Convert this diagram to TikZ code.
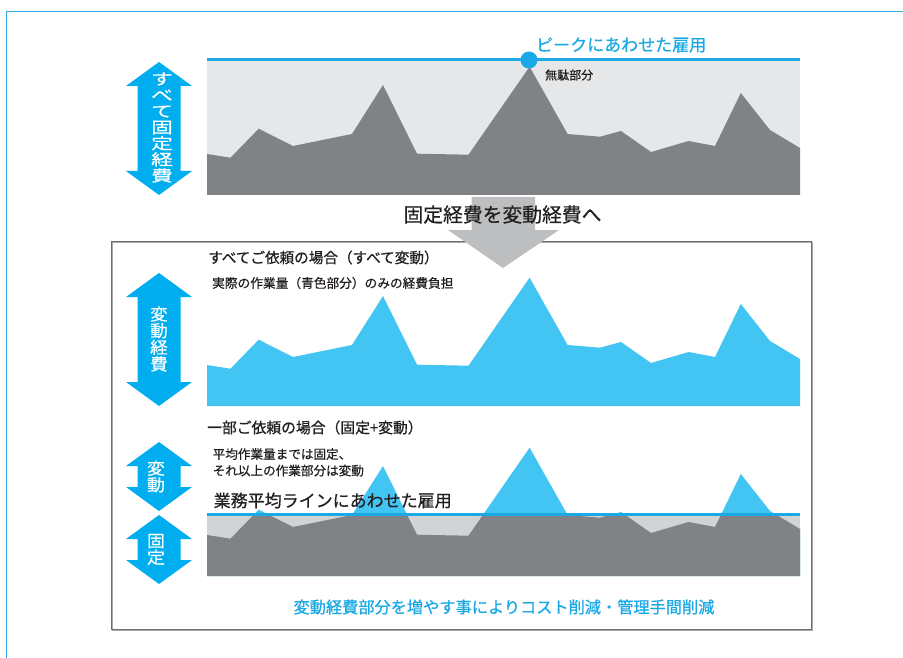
\documentclass[tikz,border=0pt]{standalone}
\usepackage{fontspec}
\setmainfont{Noto Sans CJK JP}
\newfontfamily\jpmed{Noto Sans CJK JP}[FakeBold=0.5]
\newfontfamily\jpsemi{Noto Sans CJK JP}[FakeBold=0.8]
\definecolor{arrowcyan}{HTML}{00AEEF}
\definecolor{chartblue}{HTML}{42C5F2}
\definecolor{lineblue}{HTML}{1BA9E6}
\definecolor{framecyan}{HTML}{29ABE2}
\definecolor{dgray}{HTML}{808285}
\definecolor{lgray}{HTML}{E6E7E8}
\definecolor{mgray}{HTML}{D1D3D4}
\definecolor{agray}{HTML}{BCBEC0}
\definecolor{boxgray}{HTML}{6D6E71}
\definecolor{ink}{HTML}{231F20}
\tikzset{
  txt/.style={inner sep=0pt, text=ink, anchor=west},
  arrtxt/.style={inner sep=0pt, text=white, align=center},
}
\newcommand\chartshape{(207,195) -- (207,154) -- (230.5,157.7) -- (258.7,128.7) -- (293,146) -- (352,134) -- (383,85) -- (417,153.7) -- (468.5,154.7) -- (529.6,66.7) -- (567.6,134) -- (600,136.7) -- (621,131) -- (651,152) -- (688.6,141) -- (715,146) -- (740.8,93) -- (770,130) -- (800,148) -- (800,195) -- cycle}
\newcommand\dblarrow[2]{\fill[arrowcyan] (159,#1) -- (192,#1+24) -- (180.5,#1+24) -- (180.5,#2-24) -- (192,#2-24) -- (159,#2) -- (126,#2-24) -- (137.5,#2-24) -- (137.5,#1+24) -- (126,#1+24) -- cycle;}
\begin{document}
\begin{tikzpicture}[x=1pt,y=-1pt]
\useasboundingbox (0,0) rectangle (903,658);
\fill[white] (0,0) rectangle (903,658);
% outer frame
\draw[framecyan, line width=1pt] (6,658) -- (6,12) -- (903,12);

% ===== top chart =====
\fill[lgray] (207,60) rectangle (800,195);
\fill[dgray] \chartshape;
\draw[lineblue, line width=3pt] (207,60) -- (800,60);
\fill[lineblue] (529,60) circle (8.5pt);
\node[txt, text=lineblue, font=\jpmed\fontsize{17}{17}\selectfont] (peak) at (536,45) {ピークにあわせた雇用};
\node[txt, font=\jpmed\fontsize{12}{12}\selectfont] (muda) at (545,75) {無駄部分};

% ===== box =====
\draw[boxgray!60, line width=1.2pt] (112.5,242.5) rectangle (812.5,630.5);
\draw[boxgray, line width=1pt] (111,241) rectangle (811,629);

% gray arrow
\fill[agray] (471.5,197) -- (535,197) -- (535,230) -- (559,230) -- (503,268) -- (448,230) -- (471.5,230) -- cycle;
\node[inner sep=0pt, text=ink, font=\jpmed\fontsize{19.8}{19.8}\selectfont] (henkan) at (502.5,214.5) {固定経費を変動経費へ};

% ===== middle chart =====
\begin{scope}[yshift=-211pt]
  \fill[chartblue] \chartshape;
\end{scope}
\node[txt, font=\jpsemi\fontsize{14.6}{14.6}\selectfont] (all) at (208,257.5) {すべてご依頼の場合（すべて変動）};
\node[txt, font=\jpmed\fontsize{12.7}{12.7}\selectfont] (jissai) at (212,283) {実際の作業量（青色部分）のみの経費負担};

% ===== bottom chart =====
\begin{scope}[yshift=-381pt]
  \fill[chartblue] \chartshape;
\end{scope}
\fill[mgray] (207,514) rectangle (800,576);
\begin{scope}
  \clip (207,514) rectangle (800,577);
  \begin{scope}[yshift=-381pt]
    \fill[dgray] \chartshape;
  \end{scope}
\end{scope}
\draw[lineblue, line width=3pt] (207,514) -- (800,514);
\node[txt, font=\jpsemi\fontsize{14.8}{14.8}\selectfont] (part) at (207,427.5) {一部ご依頼の場合（固定+変動）};
\node[txt, align=left, font=\jpmed\fontsize{12.6}{16.5}\selectfont] (heikin) at (212.5,462.3) {平均作業量までは固定、\\それ以上の作業部分は変動};
\node[txt, font=\jpmed\fontsize{17}{17}\selectfont] (gyomu) at (213.5,500.5) {業務平均ラインにあわせた雇用};
\node[inner sep=0pt, text=lineblue, font=\jpsemi\fontsize{16.2}{16.2}\selectfont] (cost) at (504,607) {変動経費部分を増やす事によりコスト削減・管理手間削減};

% ===== left arrows =====
\dblarrow{62}{195}
\node[arrtxt, xscale=1.4, font=\jpmed\fontsize{15.5}{16.1}\selectfont] (a1) at (162,127.5) {す\\べ\\て\\固\\定\\経\\費};
\dblarrow{273}{406}
\node[arrtxt, yscale=0.95, font=\jpmed\fontsize{17.5}{17.5}\selectfont] (a2) at (159,339) {変\\動\\経\\費};
\dblarrow{442}{511}
\node[arrtxt, yscale=0.92, font=\jpmed\fontsize{18}{18}\selectfont] (a3) at (156,476.5) {変\\動};
\dblarrow{515}{584}
\node[arrtxt, yscale=0.92, font=\jpmed\fontsize{18}{18}\selectfont] (a4) at (156,549.5) {固\\定};
\end{tikzpicture}
\end{document}
